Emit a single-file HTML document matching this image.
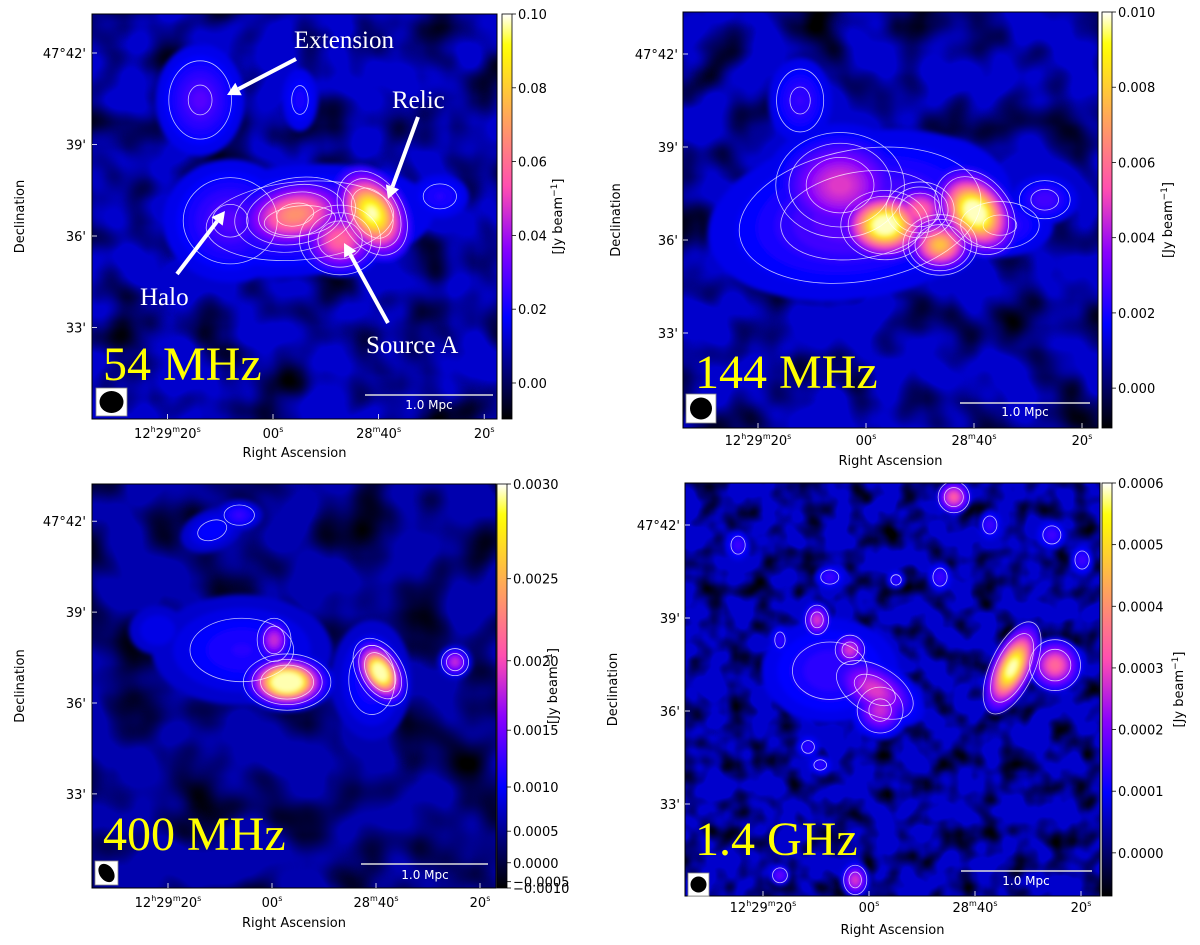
<!DOCTYPE html>
<html><head><meta charset="utf-8"><style>
html,body{margin:0;padding:0;background:#fff;}
svg{display:block;}
</style></head><body>
<svg id="fig" xmlns="http://www.w3.org/2000/svg" width="1200" height="945" viewBox="0 0 1200 945">
<defs>
<filter id="blur" x="-20%" y="-20%" width="140%" height="140%"><feGaussianBlur stdDeviation="2.5"/></filter>
</defs>
</svg>
<script>
// ---------- data ----------
const p1S=[13.8,8.1,-5.1,-4.2,-12.7,-18.8,-31.6,-5.1];
const p1D=[4.46,0.5,0.5,0.7,-0.13,0.75,1.3,4.46];
const p1V=[0.03,0.03,0.03,0.07,0.06,0.1,0.024,0.022];
const p1Sx=[0.8,1.2,2.4,1.0,0.7,0.55,0.6,0.4];
const p1Sy=[1.0,1.1,1.0,0.6,0.6,0.8,0.45,0.7];
const p1A=[0,0,-5,-10,0,-30,0,0];

const p2S=[1.1,4.8,12.2,-3.5,-13.7,-20.2,-10,-33.1,-24.8];
const p2D=[0.8,1.77,4.5,0.48,-0.16,0.9,0.97,1.3,0.48];
const p2V=[0.0032,0.005,0.0026,0.011,0.008,0.011,0.006,0.0028,0.0026];
const p2Sx=[2.6,1.1,0.6,0.7,0.55,0.55,0.55,0.6,1.0];
const p2Sy=[1.4,0.9,0.8,0.55,0.45,0.75,0.45,0.45,0.6];
const p2A=[-10,0,0,0,0,-40,0,0,0];

const p3S=[-2.9,-0.4,-20.8,-35.2,6.3,5.8,-19.2,11.5,22];
const p3D=[0.69,2.08,1.02,1.35,6.2,1.75,0.76,5.7,2.4];
const p3V=[0.0036,0.0019,0.0033,0.0019,0.0013,0.0012,0.0012,0.0011,0.001];
const p3Sx=[0.7,0.35,0.38,0.28,0.45,1.8,0.8,0.7,0.7];
const p3Sy=[0.45,0.45,0.6,0.28,0.3,1.1,1.2,0.45,0.6];
const p3A=[0,0,-30,0,0,0,0,-20,0];

const p4S=[-27,-35.1,-1.1,-2.1,3.6,9.8,7.4,-16,24.7,7.4,-22.8,-34.5,-13.4,11.5,16.8,-5.1,-40.2,9.2,2.6,16.8];
const p4D=[1.39,1.48,0.68,0.03,1.97,2.94,1.3,6.9,5.35,4.32,6.0,5.68,4.32,-1.16,2.29,4.23,4.87,-1.74,-5.45,-5.3];
const p4V=[0.00062,0.00036,0.0003,0.00028,0.0003,0.0003,0.00015,0.00035,0.00016,0.00016,0.00016,0.00016,0.00016,0.00015,0.00015,0.00015,0.00016,0.00015,0.0003,0.0002];
const p4Sx=[0.33,0.45,0.8,0.45,0.28,0.22,1.3,0.28,0.22,0.28,0.22,0.28,0.22,0.22,0.18,0.18,0.22,0.22,0.22,0.18];
const p4Sy=[0.75,0.45,0.45,0.45,0.28,0.28,1.0,0.28,0.28,0.22,0.28,0.28,0.28,0.22,0.28,0.18,0.28,0.18,0.28,0.18];
const p4A=[25,0,30,0,0,0,0,0,0,0,0,0,0,0,0,0,0,0,0,0];

const raTicks=[20,0,-20,-40];
const raLabels=[["12","h","29","m","20","s"],["00","s"],["28","m","40","s"],["20","s"]];
const decTicks=[6,3,0,-3];
const decLabels=["47°42'","39'","36'","33'"];

const cb1Vals=[0,0.02,0.04,0.06,0.08,0.10];
const cb1Labels=["0.00","0.02","0.04","0.06","0.08","0.10"];
const cb2Vals=[0,0.002,0.004,0.006,0.008,0.010];
const cb2Labels=["0.000","0.002","0.004","0.006","0.008","0.010"];
const cb3Vals=[-0.001,-0.0005,0,0.0005,0.001,0.0015,0.002,0.0025,0.003];
const cb3Labels=["\u22120.0010","\u22120.0005","0.0000","0.0005","0.0010","0.0015","0.0020","0.0025","0.0030"];
const cb4Vals=[0,0.0001,0.0002,0.0003,0.0004,0.0005,0.0006];
const cb4Labels=["0.0000","0.0001","0.0002","0.0003","0.0004","0.0005","0.0006"];

const contours1=[0.02,0.028,0.04,0.06];
const contours2=[0.0018,0.0024,0.0035];
const contours3=[0.001,0.0014,0.002];
const contours4=[0.00012,0.00022];

// ---------- layout ----------
const panels=[
 {id:'54mhz',x0:92,y0:14,x1:497,y1:419,cbx:502,vmin:-0.00976,vmax:0.10,pow:1,bg:0.0122,ra0:273,kra:5.28,dec0:236,kdec:30.5,freq:0.02,seed:3,
  S:p1S,D:p1D,V:p1V,Sx:p1Sx,Sy:p1Sy,A:p1A,cbV:cb1Vals,cbL:cb1Labels,cont:contours1,
  label:'54 MHz',lx:103,ly:380,tickY:438,raY:457,decX:86,ylabX:24,cblabX:562,
  beam:[96,388,31,28,12,11,0],bar:[365,493,395,429,409]},
 {id:'144mhz',x0:683,y0:12,x1:1098,y1:428,cbx:1102,vmin:-0.00106,vmax:0.010,pow:1,bg:0.00115,ra0:866,kra:5.4,dec0:240,kdec:31,freq:0.02,seed:7,
  S:p2S,D:p2D,V:p2V,Sx:p2Sx,Sy:p2Sy,A:p2A,cbV:cb2Vals,cbL:cb2Labels,cont:contours2,
  label:'144 MHz',lx:695,ly:388,tickY:445,raY:465,decX:678,ylabX:620,cblabX:1172,
  beam:[686,394,30,29,11,11,0],bar:[960,1090,403,1025,416]},
 {id:'400mhz',x0:92,y0:484,x1:496,y1:888,cbx:497,vmin:-0.001,vmax:0.003,pow:2,bg:0.00065,ra0:272,kra:5.2,dec0:703,kdec:30.3,freq:0.018,seed:11,
  S:p3S,D:p3D,V:p3V,Sx:p3Sx,Sy:p3Sy,A:p3A,cbV:cb3Vals,cbL:cb3Labels,cont:contours3,
  label:'400 MHz',lx:103,ly:850,tickY:907,raY:927,decX:86,ylabX:24,cblabX:557,
  beam:[95,861,23,24,7,10,-35],bar:[361,488,864,425,879]},
 {id:'1p4ghz',x0:685,y0:483,x1:1100,y1:896,cbx:1102,vmin:-0.00007,vmax:0.0006,pow:1,bg:0.000064,ra0:869,kra:5.3,dec0:711,kdec:31,freq:0.04,seed:5,
  S:p4S,D:p4D,V:p4V,Sx:p4Sx,Sy:p4Sy,A:p4A,cbV:cb4Vals,cbL:cb4Labels,cont:contours4,
  label:'1.4 GHz',lx:695,ly:855,tickY:912,raY:934,decX:680,ylabX:617,cblabX:1183,
  beam:[688,873,21,23,8,8,0],bar:[961,1092,871,1026,885]}
];

const NS='http://www.w3.org/2000/svg';
const svg=document.getElementById('fig');
const defs=svg.querySelector('defs');

function cmap(x){x=Math.max(0,Math.min(1,x));
 const r=x/0.32-0.78125,g=2*x-0.84;let b;
 if(x<0.25)b=4*x;else if(x<0.42)b=1;else if(x<0.92)b=-2*x+1.84;else b=x/0.08-11.5;
 const c=v=>Math.round(255*Math.max(0,Math.min(1,v)));
 return `rgb(${c(r)},${c(g)},${c(b)})`;}

function mk(tag,attrs,parent,name,inter){
 const el=document.createElementNS(NS,tag);
 for(const k in attrs)el.setAttribute(k,attrs[k]);
 
 
 (parent||svg).appendChild(el);return el;}

panels.forEach((p,pi)=>{
 const W=p.x1-p.x0,H=p.y1-p.y0;
 const norm=v=>Math.pow(Math.max(0,Math.min(1,(v-p.vmin)/(p.vmax-p.vmin))),p.pow);
 const inv=f=>p.vmin+Math.pow(f,1/p.pow)*(p.vmax-p.vmin);
 const xS=s=>p.ra0-p.kra*s;
 const yS=d=>p.dec0-p.kdec*d;
 const g=mk('g',{},svg,'panel-'+p.id,false);
 const cp=document.createElementNS(NS,'clipPath');cp.setAttribute('id','clip'+pi);
 const cr=document.createElementNS(NS,'rect');cr.setAttribute('x',p.x0);cr.setAttribute('y',p.y0);cr.setAttribute('width',W);cr.setAttribute('height',H);
 cp.appendChild(cr);defs.appendChild(cp);
 const f=document.createElementNS(NS,'filter');f.setAttribute('id','noise'+pi);
 f.setAttribute('filterUnits','userSpaceOnUse');f.setAttribute('x',p.x0);f.setAttribute('y',p.y0);f.setAttribute('width',W);f.setAttribute('height',H);
 f.innerHTML=`<feTurbulence type="fractalNoise" baseFrequency="${p.freq}" numOctaves="2" seed="${p.seed}"/><feColorMatrix type="matrix" values="0 0 0 0 0  0 0 0 0 0  0 0 0 0 0  2.4 0 0 0 -1.0"/>`;
 defs.appendChild(f);
 const img=mk('g',{'clip-path':`url(#clip${pi})`},g,'sky-image',false);
 mk('rect',{x:p.x0,y:p.y0,width:W,height:H,fill:cmap(norm(p.bg))},img,'image-background',false);
 mk('rect',{x:p.x0,y:p.y0,width:W,height:H,fill:'#000',filter:`url(#noise${pi})`},img,'noise-texture',false);
 const blobG=mk('g',{filter:'url(#blur)'},img,'emission',false);
 const ells=[];
 const fb=norm(p.bg);
 p.V.forEach((v,i)=>{
  const fp=norm(v);
  for(let fl=fb+0.03;fl<fp;fl+=0.025){
   const L=inv(fl);
   const r=Math.sqrt(2*Math.log((v-p.bg)/(L-p.bg)));
   if(r>2.3)continue;
   ells.push({L:fl,i,r});
  }
 });
 ells.sort((a,b)=>a.L-b.L);
 ells.forEach(e=>{
  const i=e.i,cx=xS(p.S[i]),cy=yS(p.D[i]);
  const el=document.createElementNS(NS,'ellipse');
  el.setAttribute('cx',cx);el.setAttribute('cy',cy);
  el.setAttribute('rx',p.Sx[i]*p.kdec*e.r);el.setAttribute('ry',p.Sy[i]*p.kdec*e.r);
  el.setAttribute('transform',`rotate(${p.A[i]} ${cx} ${cy})`);
  el.setAttribute('fill',cmap(e.L));
  
  
  blobG.appendChild(el);
 });
 const cg=mk('g',{fill:'none',stroke:'#fff','stroke-width':0.8,'stroke-opacity':0.75},img,'contours',false);
 p.cont.forEach(L=>{
  p.V.forEach((v,i)=>{
   if(v<=L)return;
   const r=Math.sqrt(2*Math.log((v-p.bg)/(L-p.bg)));
   if(r>2.2)return;
   const cx=xS(p.S[i]),cy=yS(p.D[i]);
   const el=document.createElementNS(NS,'ellipse');
   el.setAttribute('cx',cx);el.setAttribute('cy',cy);
   el.setAttribute('rx',p.Sx[i]*p.kdec*r);el.setAttribute('ry',p.Sy[i]*p.kdec*r);
   el.setAttribute('transform',`rotate(${p.A[i]} ${cx} ${cy})`);
   
   
   cg.appendChild(el);
  });
 });
 mk('rect',{x:p.x0,y:p.y0,width:W,height:H,fill:'none',stroke:'#000','stroke-width':1},g,'image-frame',false);
 const b=p.beam;
 mk('rect',{x:b[0],y:b[1],width:b[2],height:b[3],fill:'#fff',stroke:'#888','stroke-width':0.8},g,'beam-box',false);
 mk('ellipse',{cx:b[0]+b[2]/2,cy:b[1]+b[3]/2,rx:b[4],ry:b[5],fill:'#000',transform:`rotate(${b[6]} ${b[0]+b[2]/2} ${b[1]+b[3]/2})`},g,'beam-ellipse',false);
 const s=p.bar;
 mk('line',{x1:s[0],x2:s[1],y1:s[2],y2:s[2],stroke:'#ddd','stroke-width':1.5},g,'scale-bar',false);
 const st=mk('text',{x:s[3],y:s[4],'text-anchor':'middle',fill:'#fff','font-family':'DejaVu Sans, Liberation Sans, sans-serif','font-size':12},g,'scale-bar-label',false);
 st.textContent='1.0 Mpc';
 const fl=mk('text',{x:p.lx,y:p.ly,fill:'#ffff00','font-family':'Liberation Serif, serif','font-size':48},g,'frequency-label',false);
 fl.textContent=p.label;
 raTicks.forEach((t,k)=>{
  const tx=mk('text',{x:xS(t),y:p.tickY,'text-anchor':'middle',fill:'#000','font-family':'DejaVu Sans, Liberation Sans, sans-serif','font-size':13},g,'ra-tick-label',false);
  raLabels[k].forEach((part,j)=>{
   const ts=document.createElementNS(NS,'tspan');
   if(j%2===1){ts.setAttribute('font-size','8');ts.setAttribute('dy','-6');}
   else if(j>0){ts.setAttribute('dy','6');}
   ts.textContent=part;tx.appendChild(ts);
  });
  mk('line',{x1:xS(t),x2:xS(t),y1:p.y1,y2:p.y1-5,stroke:'#fff','stroke-width':0.8},g,'ra-tick',false);
 });
 const ra=mk('text',{x:(p.x0+p.x1)/2,y:p.raY,'text-anchor':'middle',fill:'#000','font-family':'DejaVu Sans, Liberation Sans, sans-serif','font-size':13},g,'x-axis-title',false);
 ra.textContent='Right Ascension';
 decTicks.forEach((t,k)=>{
  const tx=mk('text',{x:p.decX,y:yS(t)+5,'text-anchor':'end',fill:'#000','font-family':'DejaVu Sans, Liberation Sans, sans-serif','font-size':13},g,'dec-tick-label',false);
  tx.textContent=decLabels[k];
  mk('line',{x1:p.x0,x2:p.x0+5,y1:yS(t),y2:yS(t),stroke:'#fff','stroke-width':0.8},g,'dec-tick',false);
 });
 const yl=mk('text',{x:p.ylabX,y:(p.y0+p.y1)/2,'text-anchor':'middle',fill:'#000','font-family':'DejaVu Sans, Liberation Sans, sans-serif','font-size':13,transform:`rotate(-90 ${p.ylabX} ${(p.y0+p.y1)/2})`},g,'y-axis-title',false);
 yl.textContent='Declination';
 const gid='cbg'+pi;
 const lg=document.createElementNS(NS,'linearGradient');lg.setAttribute('id',gid);
 lg.setAttribute('x1','0');lg.setAttribute('y1','1');lg.setAttribute('x2','0');lg.setAttribute('y2','0');
 for(let k=0;k<=40;k++){const st2=document.createElementNS(NS,'stop');st2.setAttribute('offset',k/40);st2.setAttribute('stop-color',cmap(k/40));lg.appendChild(st2);}
 defs.appendChild(lg);
 mk('rect',{x:p.cbx,y:p.y0,width:10,height:H,fill:`url(#${gid})`,stroke:'#000','stroke-width':0.8},g,'colorbar',false);
 const cbY=v=>p.y1-norm(v)*H;
 p.cbV.forEach((v,k)=>{
  const y=cbY(v);
  mk('line',{x1:p.cbx+10,x2:p.cbx+14,y1:y,y2:y,stroke:'#000','stroke-width':0.8},g,'colorbar-tick',false);
  const t=mk('text',{x:p.cbx+16,y:y+5,fill:'#000','font-family':'DejaVu Sans, Liberation Sans, sans-serif','font-size':13},g,'colorbar-tick-label',false);
  t.textContent=p.cbL[k];
 });
 const cl=mk('text',{x:p.cblabX,y:(p.y0+p.y1)/2,'text-anchor':'middle',fill:'#000','font-family':'DejaVu Sans, Liberation Sans, sans-serif','font-size':13,transform:`rotate(-90 ${p.cblabX} ${(p.y0+p.y1)/2})`},g,'colorbar-title',false);
 cl.textContent='[Jy beam';
 const sup=document.createElementNS(NS,'tspan');sup.setAttribute('font-size','9');sup.setAttribute('dy','-5');sup.textContent='\u22121';cl.appendChild(sup);
 const cls=document.createElementNS(NS,'tspan');cls.setAttribute('dy','5');cls.textContent=']';cl.appendChild(cls);
});

const annG=mk('g',{},svg,'annotations',false);
const annText=[['Extension',294,48],['Relic',392,108],['Halo',140,305],['Source A',366,353]];
annText.forEach(a=>{
 const t=mk('text',{x:a[1],y:a[2],fill:'#fff','font-family':'Liberation Serif, serif','font-size':25},annG,'annotation-label',false);
 t.textContent=a[0];
});
const arrows=[[296,59,227,95],[418,117,388,199],[177,274,225,211],[388,323,344,243]];
arrows.forEach(a=>{
 const dx=a[2]-a[0],dy=a[3]-a[1],len=Math.hypot(dx,dy),ux=dx/len,uy=dy/len;
 const bx=a[2]-ux*13,by=a[3]-uy*13;
 mk('line',{x1:a[0],y1:a[1],x2:bx,y2:by,stroke:'#fff','stroke-width':4},annG,'annotation-arrow',false);
 mk('polygon',{points:`${a[2]},${a[3]} ${bx-uy*7},${by+ux*7} ${bx+uy*7},${by-ux*7}`,fill:'#fff'},annG,'arrow-head',false);
});
</script>
</body></html>
